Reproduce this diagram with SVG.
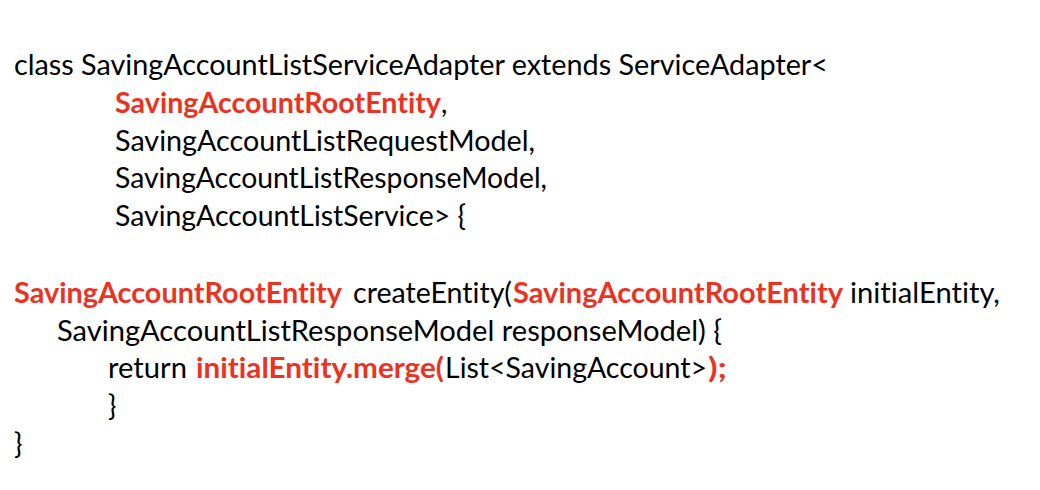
<svg xmlns="http://www.w3.org/2000/svg" width="1040" height="490" viewBox="0 0 1040 490">
<style>
text{font-family:Lato,"Liberation Sans",sans-serif;font-size:28px;fill:#000;font-variant-ligatures:none;font-feature-settings:"liga" 0,"clig" 0}
.r{fill:#EA3323;font-weight:bold}
</style>
<rect width="1040" height="490" fill="#fff"/>
<g id="code">
<text x="14" y="75" textLength="814" lengthAdjust="spacingAndGlyphs">class SavingAccountListServiceAdapter extends ServiceAdapter&lt;</text>
<text class="r" x="115" y="113" textLength="326" lengthAdjust="spacingAndGlyphs">SavingAccountRootEntity</text>
<text x="441" y="113">,</text>
<text x="115" y="151" textLength="420" lengthAdjust="spacingAndGlyphs">SavingAccountListRequestModel,</text>
<text x="115" y="188" textLength="432" lengthAdjust="spacingAndGlyphs">SavingAccountListResponseModel,</text>
<text x="115" y="226" textLength="351" lengthAdjust="spacingAndGlyphs">SavingAccountListService&gt; {</text>
<text class="r" x="14" y="303" textLength="328" lengthAdjust="spacingAndGlyphs">SavingAccountRootEntity</text>
<text x="353" y="303" textLength="159" lengthAdjust="spacingAndGlyphs">createEntity(</text>
<text class="r" x="513" y="303" textLength="330" lengthAdjust="spacingAndGlyphs">SavingAccountRootEntity</text>
<text x="850" y="303" textLength="150" lengthAdjust="spacingAndGlyphs">initialEntity,</text>
<text x="57" y="341" textLength="665" lengthAdjust="spacingAndGlyphs">SavingAccountListResponseModel responseModel) {</text>
<text x="108" y="378" textLength="79" lengthAdjust="spacingAndGlyphs">return</text>
<text class="r" x="196" y="378" textLength="248" lengthAdjust="spacingAndGlyphs">initialEntity.merge(</text>
<text x="445" y="378" textLength="262" lengthAdjust="spacingAndGlyphs">List&lt;SavingAccount&gt;</text>
<text class="r" x="708" y="378" textLength="19" lengthAdjust="spacingAndGlyphs">);</text>
<text x="108" y="416">}</text>
<text x="14" y="454">}</text>
</g>
</svg>
